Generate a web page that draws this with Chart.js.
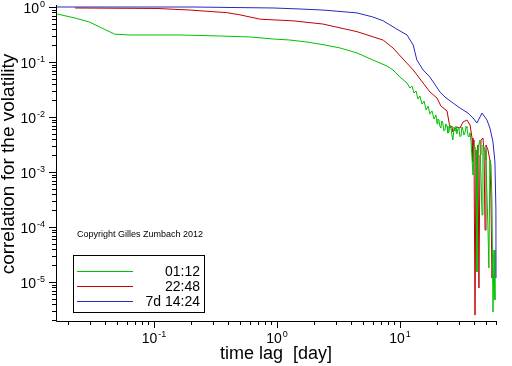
<!DOCTYPE html>
<html>
<head>
<meta charset="utf-8">
<script src="https://cdn.jsdelivr.net/npm/chart.js@4/dist/chart.umd.min.js"></script>
<style>
html,body{margin:0;padding:0;background:#fff;}
canvas{display:block;}
</style>
</head>
<body>
<canvas id="c" width="512" height="366"></canvas>
<script>
// ---- data (time lag in days, correlation for the volatility) ----
const seriesLabels = ['01:12', '22:48', '7d 14:24'];
const seriesColors = ['#00c000', '#c00000', '#2828c0'];

const greenLag = [0.0163,0.0228,0.030,0.0364,0.048,0.0638,0.1626,0.34,0.60,0.93,1.27,1.75,2.45,3.25,4.47,6.0,7.83,8.77,10.0,11.4,
  12.05,12.5,13.0,13.5,14.0,14.5,15.1,15.7,16.3,16.9,17.5,18.2,18.9,19.6,
  20.0,20.3,20.7,21.1,21.5,21.9,22.3,22.7,23.2,23.6,24.1,24.5,25.0,25.4,25.9,26.4,26.9,27.5,28.0,28.5,29.0,29.5,30.1,30.7,31.3,31.9,32.5,33.1,33.7,34.4,35.0,35.7,36.4,37.1,37.8,
  39.2,39.9,41.5,42.2,43.0,44.7,46.4,47.2,49.1,50.0,51.9,52.8,53.8,54.9,55.9,57.0,58.1,59.1];
const greenCorr = [0.746,0.63,0.53,0.43,0.32,0.31,0.31,0.297,0.285,0.262,0.251,0.231,0.204,0.18,0.146,0.109,0.0846,0.0716,0.0533,0.0415,
  0.0337,0.0366,0.0273,0.0297,0.0212,0.0241,0.0172,0.0195,0.0134,0.0158,0.0113,0.0129,0.0092,0.0109,
  0.00746,0.0092,0.00882,0.0068,0.0063,0.0085,0.00778,0.0056,0.0058,0.0075,0.00686,0.0051,0.00534,0.0072,0.00658,0.0047,0.00382,0.0066,0.00556,0.0068,0.00491,0.0061,0.0063,0.0044,0.00452,0.0066,0.0058,0.0047,0.00512,0.0067,0.0063,0.0046,0.00433,0.0052,0.00351,
  0.00088,0.0031,0.00251,1.52e-5,0.00273,0.00382,0.000165,0.0031,0.00251,0.00165,8.8e-5,1.8e-5,0.00165,0.00134,0.00031,2.85e-6,3.8e-5,4.7e-6];

const redLag = [0.0228,0.106,0.196,0.39,0.50,0.73,1.35,2.36,4.47,7.3,8.77,10.4,12.8,15.4,17.5,20.0,21.5,24.1,25.5,26.4,26.9,29.0,30.7,32.5,35.0,37.1,38.5,
  39.2,39.9,40.7,41.5,42.2,43.0,43.8,44.7,45.5,47.2,48.2,49.1,50.0,51.9,53.8,54.9,55.9,57.0];
const redCorr = [0.96,0.94,0.88,0.79,0.72,0.60,0.56,0.49,0.356,0.25,0.18,0.118,0.0716,0.0415,0.0285,0.0221,0.0158,0.0129,0.0063,0.00686,0.00534,0.00658,0.0063,0.0081,0.00882,0.00716,0.00415,
  0.00152,0.00382,2.5e-6,0.00251,0.00031,0.0031,7.8e-6,0.00204,0.00382,0.00415,0.00251,8.8e-5,0.0031,0.00251,0.00165,0.00031,1.18e-5,3.1e-5];

const blueLag = [0.01596,0.207,0.415,0.93,1.54,2.36,3.25,4.47,6.0,7.3,8.3,10.0,11.4,12.8,13.7,15.4,17.5,19.6,21.1,23.2,26.95,30.7,35.7,39.2,42.2,46.4,50.9,53.8,57.0,59.1,60.2,60.3];
const blueCorr = [1.0,1.0,0.98,0.96,0.92,0.88,0.83,0.78,0.66,0.56,0.47,0.366,0.31,0.204,0.109,0.0716,0.0533,0.0366,0.0285,0.0231,0.018,0.0146,0.0118,0.0096,0.00778,0.0118,0.00882,0.0063,0.00351,0.00152,0.000204,1.18e-5];

// axis ranges and tick labels (decade exponents)
const xRange = [0.01596, 60.3];
const yRange = [1.954e-6, 1.0];
const xTickExps = [-1, 0, 1];
const yTickExps = [0, -1, -2, -3, -4, -5];
const xTitle = 'time lag  [day]';
const yTitle = 'correlation for the volatility';
const copyright = 'Copyright Gilles Zumbach 2012';

function pairs(xs, ys){ return xs.map((x,i)=>({x:x, y:ys[i]})); }

const FONT = '"Liberation Sans", Arial, Helvetica, sans-serif';

function drawPow(ctx, e, x, baseline, align){
  const base = '10', ex = String(e);
  ctx.font = '14px ' + FONT;
  const wb = ctx.measureText(base).width;
  ctx.font = '9px ' + FONT;
  const we = ctx.measureText(ex).width;
  const w = wb + 1 + we;
  let left = align === 'right' ? x - w : x - w/2;
  ctx.textAlign = 'left';
  ctx.textBaseline = 'alphabetic';
  ctx.font = '14px ' + FONT;
  ctx.fillText(base, left, baseline);
  ctx.font = '9px ' + FONT;
  ctx.fillText(ex, left + wb + 1, baseline - 6);
}

const decor = {
  id: 'decor',
  afterDraw(chart){
    const ctx = chart.ctx, xs = chart.scales.x, ys = chart.scales.y, a = chart.chartArea;
    ctx.save();
    ctx.strokeStyle = '#000';
    ctx.fillStyle = '#000';
    ctx.lineWidth = 1;
    const L = Math.round(a.left), B = Math.round(a.bottom);
    ctx.beginPath();
    ctx.moveTo(L + 0.5, Math.round(a.top) - 2);
    ctx.lineTo(L + 0.5, B + 0.5);
    ctx.lineTo(Math.round(a.right) + 0.5, B + 0.5);
    ctx.stroke();
    // y ticks
    ctx.beginPath();
    for (let d = 0; d >= -6; d--) {
      for (let k = 1; k <= 9; k++) {
        const v = k * Math.pow(10, d);
        if (v < yRange[0] || v > yRange[1] * 1.0001) continue;
        const p = Math.round(ys.getPixelForValue(v)) + 0.5;
        const len = k === 1 ? 7 : 4;
        ctx.moveTo(L - len, p); ctx.lineTo(L + 1, p);
      }
    }
    // x ticks
    for (let d = -2; d <= 2; d++) {
      for (let k = 1; k <= 9; k++) {
        const v = k * Math.pow(10, d);
        if (v < xRange[0] || v > xRange[1]) continue;
        const p = Math.round(xs.getPixelForValue(v)) + 0.5;
        const len = k === 1 ? 7 : 4;
        ctx.moveTo(p, B); ctx.lineTo(p, B + len);
      }
    }
    ctx.stroke();
    // tick labels
    yTickExps.forEach(e => {
      const p = ys.getPixelForValue(Math.pow(10, e));
      drawPow(ctx, e, 45, p + 6, 'right');
    });
    xTickExps.forEach(e => {
      const p = xs.getPixelForValue(Math.pow(10, e));
      drawPow(ctx, e, p, 343, 'center');
    });
    // axis titles
    ctx.font = '18px ' + FONT;
    ctx.textAlign = 'center';
    ctx.textBaseline = 'alphabetic';
    ctx.fillText(xTitle, (a.left + a.right) / 2, 359);
    ctx.save();
    ctx.translate(14, (a.top + a.bottom) / 2);
    ctx.rotate(-Math.PI / 2);
    ctx.font = '19px ' + FONT;
    ctx.fillText(yTitle, 0, 0);
    ctx.restore();
    // copyright
    ctx.font = '9px ' + FONT;
    ctx.textAlign = 'left';
    ctx.fillText(copyright, 77, 237);
    // legend box
    ctx.strokeStyle = '#000';
    ctx.strokeRect(73.5, 255.5, 131, 57);
    const ly = [271, 286, 301];
    seriesLabels.forEach((lab, i) => {
      ctx.fillStyle = seriesColors[i];
      ctx.fillRect(77, ly[i], 56, 1);
      ctx.font = '14px ' + FONT;
      ctx.textAlign = 'right';
      ctx.fillStyle = '#000';
      ctx.fillText(lab, 200, ly[i] + 5);
    });
    ctx.restore();
  }
};

new Chart(document.getElementById('c'), {
  type: 'line',
  data: {
    datasets: [
      {label: seriesLabels[2], data: pairs(blueLag, blueCorr), borderColor: seriesColors[2], borderWidth: 1, pointRadius: 0, tension: 0, fill: false, clip: false},
      {label: seriesLabels[0], data: pairs(greenLag, greenCorr), borderColor: seriesColors[0], borderWidth: 1, pointRadius: 0, tension: 0, fill: false, clip: false},
      {label: seriesLabels[1], data: pairs(redLag, redCorr), borderColor: seriesColors[1], borderWidth: 1, pointRadius: 0, tension: 0, fill: false, clip: false}
    ]
  },
  options: {
    responsive: false,
    animation: false,
    devicePixelRatio: 1,
    layout: {padding: {left: 56, top: 7, right: 16, bottom: 45}},
    scales: {
      x: {type: 'logarithmic', min: xRange[0], max: xRange[1], display: false},
      y: {type: 'logarithmic', min: yRange[0], max: yRange[1], display: false}
    },
    plugins: {legend: {display: false}, tooltip: {enabled: false}}
  },
  plugins: [decor]
});
</script>
</body>
</html>
